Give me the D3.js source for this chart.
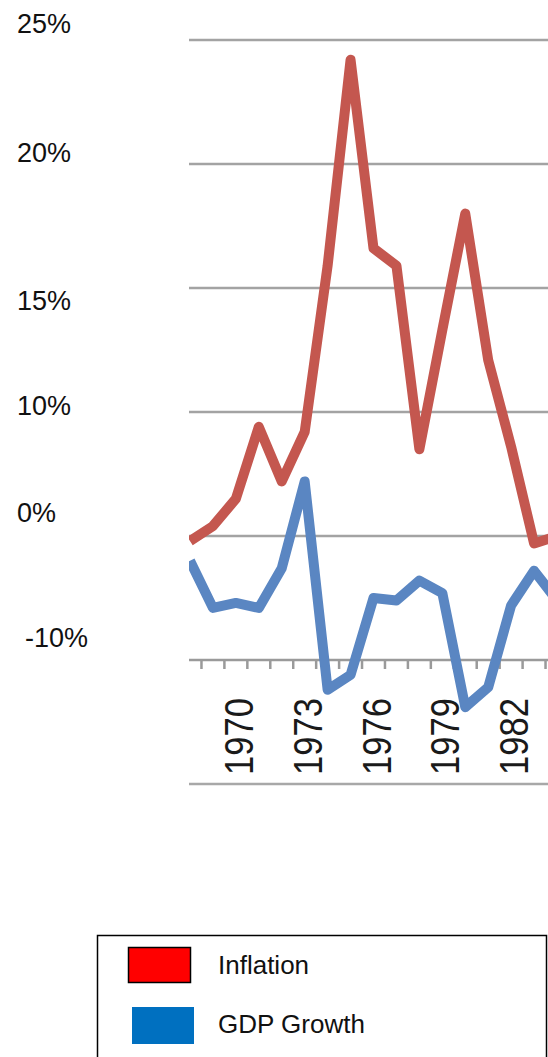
<!DOCTYPE html>
<html>
<head>
<meta charset="utf-8">
<script src="https://cdn.jsdelivr.net/npm/d3@7"></script>
<style>
  body { margin: 0; background: #fff; }
  svg { display: block; font-family: "Liberation Sans", Arial, sans-serif; }
</style>
</head>
<body>
<div id="chart"></div>
<script>
/**
 * DATA
 * */
const years = [1968, 1969, 1970, 1971, 1972, 1973, 1974, 1975, 1976, 1977, 1978, 1979, 1980, 1981, 1982, 1983, 1984];
const inflation = [4.8, 5.4, 6.5, 9.4, 7.2, 9.2, 15.9, 24.2, 16.6, 15.9, 8.5, 13.3, 18.0, 12.1, 8.6, 4.7, 5.0];
const gdpGrowth = [4.0, 2.1, 2.3, 2.1, 3.7, 7.2, -1.2, -0.6, 2.5, 2.4, 3.2, 2.7, -1.9, -1.1, 2.2, 3.6, 2.4];
const gridValues = [25, 20, 15, 10, 5];
const yearLabels = [1970, 1973, 1976, 1979, 1982];
const sideLabels = [25, 20, 15, 10, 0, -10];
const legendItems = ["Inflation", "GDP Growth"];
const legendColors = ["#ff0000", "#0070c0"];

/**
 * CONSTANTS
 * */
const width = 548, height = 1057;
const plot = { left: 189, right: 548 };

const svg = d3.select("#chart")
  .append("svg")
  .attr("width", width)
  .attr("height", height);

// scales
const x = d3.scaleLinear()
  .domain([1968, 1984])
  .range([190, 557]);

const y = d3.scaleLinear()
  .domain([-5, 25])
  .range([784, 40]);

// the side labels don't line up with the grid in the original, so they get their own scale
const labelY = d3.scaleLinear()
  .domain([25, 20, 15, 10, 0, -10])
  .range([33, 162, 310, 415, 522, 647]);

const step = x(1969) - x(1968);

// gridlines
svg.selectAll(".grid")
  .data(gridValues)
  .join("line")
  .attr("class", "grid")
  .attr("x1", plot.left)
  .attr("x2", plot.right)
  .attr("y1", d => y(d))
  .attr("y2", d => y(d))
  .attr("stroke", "#a3a3a3")
  .attr("stroke-width", 2.5);

// bottom line
svg.append("line")
  .attr("x1", plot.left)
  .attr("x2", plot.right)
  .attr("y1", y(-5))
  .attr("y2", y(-5))
  .attr("stroke", "#a8a8a8")
  .attr("stroke-width", 2.5);

// category axis at zero
svg.append("line")
  .attr("x1", plot.left)
  .attr("x2", plot.right)
  .attr("y1", y(0))
  .attr("y2", y(0))
  .attr("stroke", "#9a9a9a")
  .attr("stroke-width", 2.5);

svg.selectAll(".tick")
  .data(years.slice(1))
  .join("line")
  .attr("class", "tick")
  .attr("x1", d => x(d) - step / 2)
  .attr("x2", d => x(d) - step / 2)
  .attr("y1", y(0))
  .attr("y2", y(0) + 9)
  .attr("stroke", "#9a9a9a")
  .attr("stroke-width", 2.5);

svg.selectAll(".year")
  .data(yearLabels)
  .join("text")
  .attr("class", "year")
  .attr("transform", d => `translate(${x(d) + 17}, 775) rotate(-90)`)
  .attr("font-size", 41)
  .attr("textLength", 77)
  .attr("lengthAdjust", "spacingAndGlyphs")
  .attr("fill", "#1a1a1a")
  .text(d => d);

// side labels
svg.selectAll(".ylab")
  .data(sideLabels)
  .join("text")
  .attr("class", "ylab")
  .attr("x", d => d < 0 ? 25 : 17)
  .attr("y", d => labelY(d))
  .attr("font-size", 27)
  .attr("fill", "#111")
  .text(d => d + "%");

// lines
svg.append("clipPath")
  .attr("id", "clip")
  .append("rect")
  .attr("x", plot.left)
  .attr("y", 0)
  .attr("width", plot.right - plot.left)
  .attr("height", 800);

const line = d3.line()
  .x((d, i) => x(years[i]))
  .y(d => y(d));

const lines = svg.append("g").attr("clip-path", "url(#clip)");

lines.append("path")
  .attr("d", line(inflation))
  .attr("fill", "none")
  .attr("stroke", "#c4574f")
  .attr("stroke-width", 10)
  .attr("stroke-linejoin", "round");

lines.append("path")
  .attr("d", line(gdpGrowth))
  .attr("fill", "none")
  .attr("stroke", "#5a86c2")
  .attr("stroke-width", 10)
  .attr("stroke-linejoin", "round");

// legend
const legend = svg.append("g");

legend.append("rect")
  .attr("x", 97.5)
  .attr("y", 935.5)
  .attr("width", 449)
  .attr("height", 140)
  .attr("fill", "#fff")
  .attr("stroke", "#000")
  .attr("stroke-width", 1.5);

legend.selectAll(".swatch")
  .data(legendItems)
  .join("rect")
  .attr("class", "swatch")
  .attr("x", (d, i) => i === 0 ? 128.5 : 132)
  .attr("y", (d, i) => i === 0 ? 947.5 : 1007)
  .attr("width", 62)
  .attr("height", (d, i) => i === 0 ? 35 : 37)
  .attr("fill", (d, i) => legendColors[i])
  .attr("stroke", (d, i) => i === 0 ? "#000" : "none")
  .attr("stroke-width", 1.5);

legend.selectAll(".ltext")
  .data(legendItems)
  .join("text")
  .attr("class", "ltext")
  .attr("x", 218)
  .attr("y", (d, i) => i === 0 ? 974 : 1033)
  .attr("font-size", 26)
  .attr("fill", "#111")
  .text(d => d);
</script>
</body>
</html>
